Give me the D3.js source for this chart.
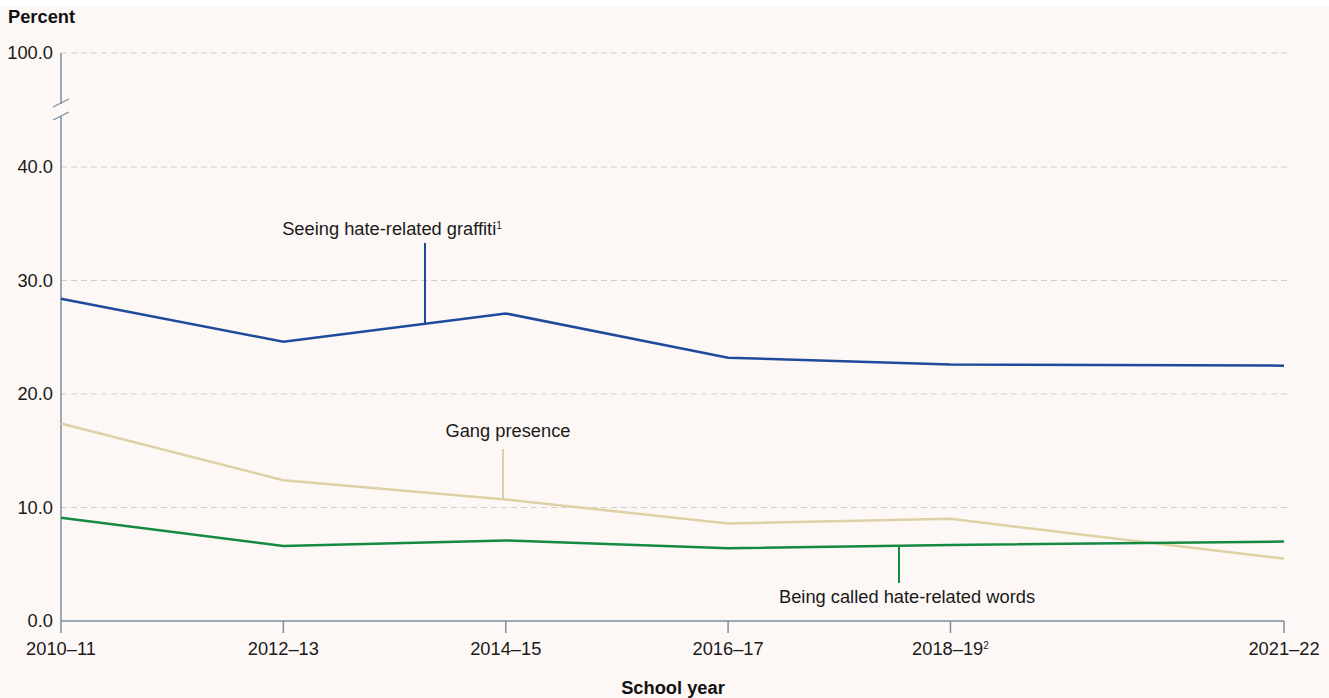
<!DOCTYPE html>
<html>
<head>
<meta charset="utf-8">
<script src="https://cdn.jsdelivr.net/npm/d3@7"></script>
<style>
  body { margin: 0; background: #ffffff; }
  svg { display: block; font-family: "Liberation Sans", Arial, sans-serif; }
</style>
</head>
<body>
<script>
// school years (start year) and labels
var years = [2010, 2012, 2014, 2016, 2018, 2021];
var yearLabels = ["2010\u201311", "2012\u201313", "2014\u201315", "2016\u201317", "2018\u201319", "2021\u201322"];
var yearSup = ["", "", "", "", "2", ""];

var graffiti = [28.4, 24.6, 27.1, 23.2, 22.6, 22.5];
var gang = [17.4, 12.4, 10.7, 8.6, 9.0, 5.5];
var hateWords = [9.1, 6.6, 7.1, 6.4, 6.7, 7.0];

var yTicks = [0, 10, 20, 30, 40];
var yTopTick = 100;

var width = 1329, height = 698;
var left = 61, right = 1284, bottom = 621;
var fs = 18.3;

var svg = d3.select("body").append("svg")
    .attr("width", width)
    .attr("height", height);

svg.append("rect")
    .attr("x", 0).attr("y", 6)
    .attr("width", width).attr("height", height - 6)
    .attr("fill", "#fdf8f6");

var x = d3.scaleLinear().domain([2010, 2021]).range([left, right]);
var y = d3.scaleLinear().domain([0, 40]).range([bottom, 167]);
var yTop = 53; // position of 100.0 above the axis break

// gridlines
var grid = svg.append("g");
yTicks.filter(function(d) { return d > 0; }).forEach(function(d) {
  grid.append("line")
    .attr("x1", left).attr("x2", 1288)
    .attr("y1", y(d)).attr("y2", y(d));
});
grid.append("line")
    .attr("x1", left).attr("x2", 1288)
    .attr("y1", yTop).attr("y2", yTop);
grid.selectAll("line")
    .attr("stroke", "#cfcfcf")
    .attr("stroke-width", 1)
    .attr("stroke-dasharray", "6,4");

var axisColor = "#7b8e9e";

// y axis line with break
svg.append("line")
    .attr("x1", left).attr("x2", left)
    .attr("y1", yTop).attr("y2", 104)
    .attr("stroke", axisColor).attr("stroke-width", 1.5);
svg.append("line")
    .attr("x1", left).attr("x2", left)
    .attr("y1", 116).attr("y2", bottom + 12)
    .attr("stroke", axisColor).attr("stroke-width", 1.5);
[0, 13].forEach(function(o) {
  svg.append("line")
    .attr("x1", 53).attr("y1", 107 + o)
    .attr("x2", 69).attr("y2", 99 + o)
    .attr("stroke", axisColor).attr("stroke-width", 1.3);
});

// y tick labels
svg.selectAll(".ylab")
  .data(yTicks)
  .enter().append("text")
    .attr("x", 53)
    .attr("y", function(d) { return y(d); })
    .attr("dy", "0.35em")
    .attr("text-anchor", "end")
    .attr("font-size", fs)
    .attr("fill", "#1a1a1a")
    .text(function(d) { return d.toFixed(1); });
svg.append("text")
    .attr("x", 53).attr("y", yTop).attr("dy", "0.35em")
    .attr("text-anchor", "end")
    .attr("font-size", fs)
    .attr("fill", "#1a1a1a")
    .text(yTopTick.toFixed(1));

// x axis
svg.append("line")
    .attr("x1", left).attr("x2", right)
    .attr("y1", bottom).attr("y2", bottom)
    .attr("stroke", axisColor).attr("stroke-width", 1.5);
svg.selectAll(".xtick")
  .data(years.slice(1))
  .enter().append("line")
    .attr("x1", function(d) { return x(d); })
    .attr("x2", function(d) { return x(d); })
    .attr("y1", bottom).attr("y2", bottom + 12)
    .attr("stroke", axisColor).attr("stroke-width", 1.5);

var xl = svg.selectAll(".xlab")
  .data(years)
  .enter().append("text")
    .attr("x", function(d) { return x(d); })
    .attr("y", 655)
    .attr("text-anchor", "middle")
    .attr("font-size", fs)
    .attr("fill", "#1a1a1a");
xl.append("tspan").text(function(d, i) { return yearLabels[i]; });
xl.append("tspan")
    .attr("font-size", 10)
    .attr("dy", -6)
    .text(function(d, i) { return yearSup[i]; });

// titles
svg.append("text")
    .attr("x", 8).attr("y", 23)
    .attr("font-size", fs).attr("font-weight", "bold")
    .attr("fill", "#111")
    .text("Percent");
svg.append("text")
    .attr("x", 673).attr("y", 694)
    .attr("text-anchor", "middle")
    .attr("font-size", fs).attr("font-weight", "bold")
    .attr("fill", "#111")
    .text("School year");

// series
var series = [
  { name: "graffiti", values: graffiti, color: "#1f4a9b" },
  { name: "gang", values: gang, color: "#dfd1a6" },
  { name: "words", values: hateWords, color: "#148a42" }
];

var line = d3.line()
    .x(function(d, i) { return x(years[i]); })
    .y(function(d) { return y(d); });

svg.selectAll(".series")
  .data(series)
  .enter().append("path")
    .attr("d", function(s) { return line(s.values); })
    .attr("fill", "none")
    .attr("stroke", function(s) { return s.color; })
    .attr("stroke-width", 2.5);

// value of a series at a fractional year (for leader line ends)
function valueAt(vals, yr) {
  for (var i = 0; i < years.length - 1; i++) {
    if (yr >= years[i] && yr <= years[i + 1]) {
      var t = (yr - years[i]) / (years[i + 1] - years[i]);
      return vals[i] + t * (vals[i + 1] - vals[i]);
    }
  }
  return vals[vals.length - 1];
}

// annotations
var notes = [
  { s: 0, yr: x.invert(425), label: "Seeing hate-related graffiti", sup: "1", tx: 392, ty: 235, y2: 243 },
  { s: 1, yr: x.invert(503), label: "Gang presence", sup: "", tx: 508, ty: 437, y2: 449 },
  { s: 2, yr: x.invert(899), label: "Being called hate-related words", sup: "", tx: 907, ty: 603, y2: 583 }
];

notes.forEach(function(n) {
  var s = series[n.s];
  var xx = x(n.yr);
  svg.append("line")
    .attr("x1", xx).attr("x2", xx)
    .attr("y1", y(valueAt(s.values, n.yr)))
    .attr("y2", n.y2)
    .attr("stroke", s.color).attr("stroke-width", 2);
  var t = svg.append("text")
    .attr("x", n.tx).attr("y", n.ty)
    .attr("text-anchor", "middle")
    .attr("font-size", fs)
    .attr("fill", "#1a1a1a");
  t.append("tspan").text(n.label);
  if (n.sup) t.append("tspan").attr("font-size", 10).attr("dy", -6).text(n.sup);
});
</script>
</body>
</html>
